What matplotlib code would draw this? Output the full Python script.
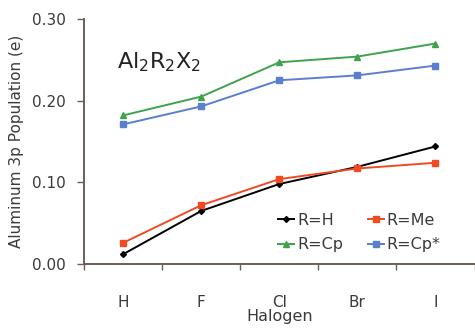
import numpy as np
import matplotlib
matplotlib.use("Agg")
import matplotlib.pyplot as plt

# data
halogens = ["H", "F", "Cl", "Br", "I"]
pop_h = [0.012, 0.065, 0.098, 0.119, 0.144]
pop_me = [0.026, 0.072, 0.104, 0.117, 0.124]
pop_cp = [0.182, 0.205, 0.247, 0.254, 0.270]
pop_cpstar = [0.171, 0.193, 0.225, 0.231, 0.243]
y_ticks = [0.0, 0.10, 0.20, 0.30]

plt.rcParams['font.family'] = ['DejaVu Sans']
plt.rcParams['mathtext.default'] = 'regular'

spine_col = '#6e5e5a'
text_col = '#3a3a3a'

fig = plt.figure(figsize=(4.75, 3.28), dpi=100)
ax = fig.add_axes([0.177, 0.195, 0.822, 0.747])

x = np.arange(len(halogens))
l_h, = ax.plot(x, pop_h, color='black', marker='D', markersize=3, lw=1.4, label='R=H')
l_me, = ax.plot(x, pop_me, color='#f04a23', marker='s', markersize=4, lw=1.4, label='R=Me')
l_cp, = ax.plot(x, pop_cp, color='#3fa34d', marker='^', markersize=4, lw=1.4, label='R=Cp')
l_cs, = ax.plot(x, pop_cpstar, color='#5b7fcf', marker='s', markersize=4, lw=1.4, label='R=Cp*')

ax.set_xlim(-0.5, len(halogens) - 0.5)
ax.set_ylim(0, 0.30)
ax.set_yticks(y_ticks)
ax.set_yticklabels([f"{v:.2f}" for v in y_ticks])
ax.set_xticks(x)
ax.set_xticklabels(halogens)
ax.set_xticks(np.arange(-0.5, len(halogens)), minor=True)
ax.tick_params(axis='x', which='major', length=0, pad=22, labelsize=11, labelcolor=text_col)
ax.tick_params(axis='x', which='minor', length=4, width=1, color=spine_col, direction='out')
ax.tick_params(axis='y', length=5, width=1, color=spine_col, direction='out',
               labelsize=11, labelcolor=text_col, pad=8)

for s in ['top', 'right']:
    ax.spines[s].set_visible(False)
for s in ['left', 'bottom']:
    ax.spines[s].set_color(spine_col)
    ax.spines[s].set_linewidth(1.4)

ax.set_ylabel('Aluminum 3p Population (e)', fontsize=11, color=text_col, labelpad=6)
ax.set_xlabel('Halogen', fontsize=11.5, color=text_col)
ax.xaxis.set_label_coords(0.5, -0.185)

ax.text(0.085, 0.80, r'Al$_2$R$_2$X$_2$', transform=ax.transAxes, fontsize=16, color='#222222')

# legend rows: R=H, R=Me / R=Cp, R=Cp*  (matplotlib fills by column)
ax.legend([l_h, l_cp, l_me, l_cs], ['R=H', 'R=Cp', 'R=Me', 'R=Cp*'],
          ncol=2, loc='lower right', bbox_to_anchor=(0.95, -0.01), frameon=False,
          fontsize=11.5, handlelength=1.0, handletextpad=0.2, columnspacing=1.5,
          labelspacing=0.6, labelcolor=text_col)

fig.savefig('out.png', dpi=100)
